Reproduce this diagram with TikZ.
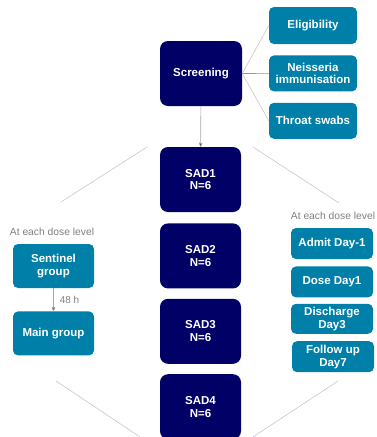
\documentclass[tikz,border=0pt]{standalone}
\usepackage{fontspec}
\setmainfont{Liberation Sans}
\usetikzlibrary{arrows,positioning}

\definecolor{navybox}{RGB}{0,0,102}
\definecolor{tealbox}{RGB}{0,128,168}

\begin{document}
\begin{tikzpicture}[x=1pt,y=-1pt,>=stealth',
    cohort/.style={rectangle, rounded corners=8pt, fill=navybox, text=white, align=center, inner sep=0pt,
        font=\bfseries\fontsize{11.5}{12.7}\selectfont, minimum width=81pt, minimum height=65pt},
    task/.style={rectangle, rounded corners=5pt, fill=tealbox, text=white, align=center, inner sep=0pt,
        font=\bfseries\fontsize{11.5}{12.7}\selectfont, minimum width=82pt, minimum height=31pt},
    note/.style={text=black!50, font=\fontsize{10.3}{12}\selectfont, inner sep=0pt},
    link/.style={draw=black!22, line width=0.6pt}]
    \useasboundingbox (0,0) rectangle (376,437);

    % screening and its checks
    \node[cohort, minimum width=82pt] (scr) at (201,73.5) {Screening};
    \node[task, minimum width=88pt, minimum height=37pt] (elig) at (313,25.5) {Eligibility};
    \node[task, minimum width=88pt, minimum height=36pt] (neis) [below=11pt of elig] {Neisseria\\immunisation};
    \node[task, minimum width=88pt, minimum height=36pt] (swab) [below=11pt of neis] {Throat swabs};

    % dose levels
    \node[cohort] (1) at (200.5,179.5) {SAD1\\N=6};
    \node[cohort] (2) [below=11pt of 1] {SAD2\\N=6};
    \node[cohort] (3) [below=10pt of 2] {SAD3\\N=6};
    \node[cohort] (4) [below=10pt of 3] {SAD4\\N=6};

    % left: sentinel dosing
    \node[note] (lnote) at (52,232) {At each dose level};
    \node[task, minimum width=81pt, minimum height=44pt] (sen) at (53.5,266) {Sentinel\\group};
    \node[task, minimum width=81pt, minimum height=44pt] (main) [below=23pt of sen] {Main group};

    % right: visit days
    \node[note] (rnote) at (333,216) {At each dose level};
    \node[task] (admit) at (332,243.5) {Admit Day-1};
    \node[task] (dose) [below=7pt of admit] {Dose Day1};
    \node[task, minimum height=30pt] (disch) [below=6pt of dose] {Discharge\\Day3};
    \node[task] (follow) [below=7pt of disch, xshift=1pt] {Follow up\\Day7};

    % funnel lines
    \coordinate (tl1) at (147,147);  \coordinate (tl2) at (61,202);
    \coordinate (tr1) at (253,147);  \coordinate (tr2) at (339,203);
    \coordinate (bl1) at (56,381);   \coordinate (bl2) at (140,437);
    \coordinate (br1) at (338,381);  \coordinate (br2) at (253,437);
    \path[link] (tl1) -- (tl2);
    \path[link] (tr1) -- (tr2);
    \path[link] (bl1) -- (bl2);
    \path[link] (br1) -- (br2);

    \path[link] (scr.east) -- (elig.west);
    \path[link, draw=black!40] (scr.east) -- (neis.west);
    \path[link] (scr.east) -- (swab.west);

    \path[->, draw=black!35, line width=0.6pt] (scr) edge (1);
    \path[->, draw=black!35, line width=0.6pt] (sen) edge node[right=6pt, note, font=\fontsize{10}{12}\selectfont] {48 h} (main);
\end{tikzpicture}
\end{document}
